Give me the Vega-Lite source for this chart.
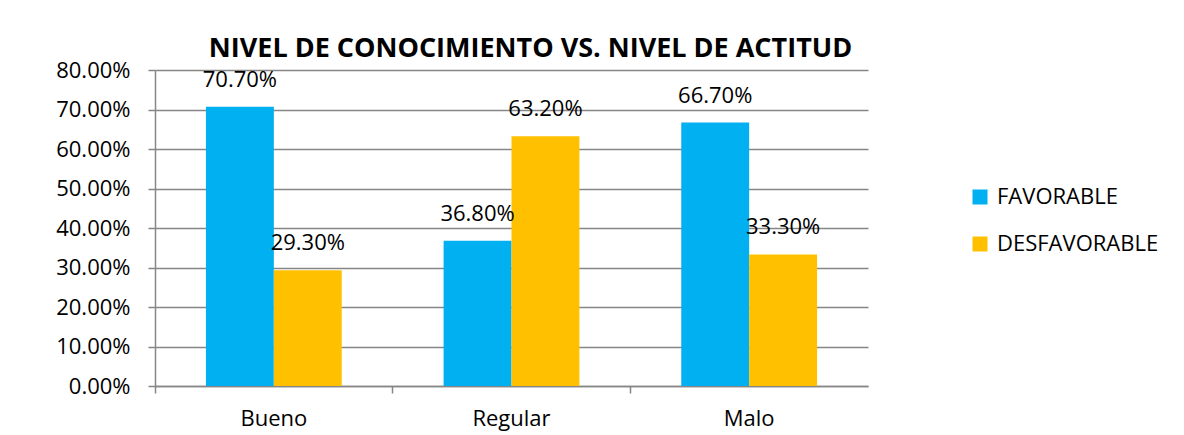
{
  "$schema": "https://vega.github.io/schema/vega-lite/v6.json",
  "autosize": {"type": "none"},
  "width": 713,
  "height": 316,
  "padding": {"left": 155, "top": 70, "right": 316, "bottom": 49},
  "background": "white",
  "config": {
    "font": "Open Sans",
    "view": {"stroke": null}
  },
  "title": {
    "text": "NIVEL DE CONOCIMIENTO VS. NIVEL DE ACTITUD",
    "font": "Open Sans",
    "fontSize": 27,
    "fontWeight": "bold",
    "color": "black",
    "anchor": "middle",
    "dx": 19,
    "offset": -4
  },
  "data": {
    "values": [
      {"nivel": "Bueno", "actitud": "FAVORABLE", "pct": 0.707},
      {"nivel": "Bueno", "actitud": "DESFAVORABLE", "pct": 0.293},
      {"nivel": "Regular", "actitud": "FAVORABLE", "pct": 0.368},
      {"nivel": "Regular", "actitud": "DESFAVORABLE", "pct": 0.632},
      {"nivel": "Malo", "actitud": "FAVORABLE", "pct": 0.667},
      {"nivel": "Malo", "actitud": "DESFAVORABLE", "pct": 0.333}
    ]
  },
  "encoding": {
    "x": {
      "field": "nivel",
      "type": "nominal",
      "sort": ["Bueno", "Regular", "Malo"],
      "scale": {"paddingInner": 0, "paddingOuter": 0},
      "axis": {
        "title": null,
        "labelAngle": 0,
        "labelFontSize": 22,
        "labelColor": "black",
        "labelPadding": 15,
        "bandPosition": 0,
        "tickSize": 7,
        "tickColor": "#868686",
        "tickWidth": 1.5,
        "domainColor": "#868686",
        "domainWidth": 1.5,
        "grid": false
      }
    },
    "xOffset": {
      "field": "actitud",
      "type": "nominal",
      "sort": ["FAVORABLE", "DESFAVORABLE"],
      "scale": {"paddingInner": 0, "paddingOuter": 0.75}
    },
    "y": {
      "field": "pct",
      "type": "quantitative",
      "scale": {"domain": [0, 0.8], "nice": false},
      "axis": {
        "title": null,
        "values": [0, 0.1, 0.2, 0.3, 0.4, 0.5, 0.6, 0.7, 0.8],
        "format": ".2%",
        "labelFontSize": 22,
        "labelColor": "black",
        "labelPadding": 18,
        "tickSize": 7,
        "tickColor": "#868686",
        "tickWidth": 1.5,
        "domainColor": "#868686",
        "domainWidth": 1.5,
        "gridColor": "#868686",
        "gridWidth": 1.5
      }
    }
  },
  "layer": [
    {
      "mark": {"type": "bar"},
      "encoding": {
        "color": {
          "field": "actitud",
          "type": "nominal",
          "sort": ["FAVORABLE", "DESFAVORABLE"],
          "scale": {"domain": ["FAVORABLE", "DESFAVORABLE"], "range": ["#00B0F0", "#FFC000"]},
          "legend": {
            "title": null,
            "orient": "none",
            "legendX": 814,
            "legendY": 116,
            "padding": 0,
            "symbolType": "square",
            "symbolSize": 225,
            "symbolStrokeWidth": 0,
            "labelFontSize": 22,
            "labelLimit": 300,
            "labelColor": "black",
            "labelOffset": 6,
            "rowPadding": 25
          }
        }
      }
    },
    {
      "mark": {"type": "text", "dy": -27, "fontSize": 22, "color": "black"},
      "encoding": {
        "text": {"field": "pct", "type": "quantitative", "format": ".2%"}
      }
    }
  ]
}
